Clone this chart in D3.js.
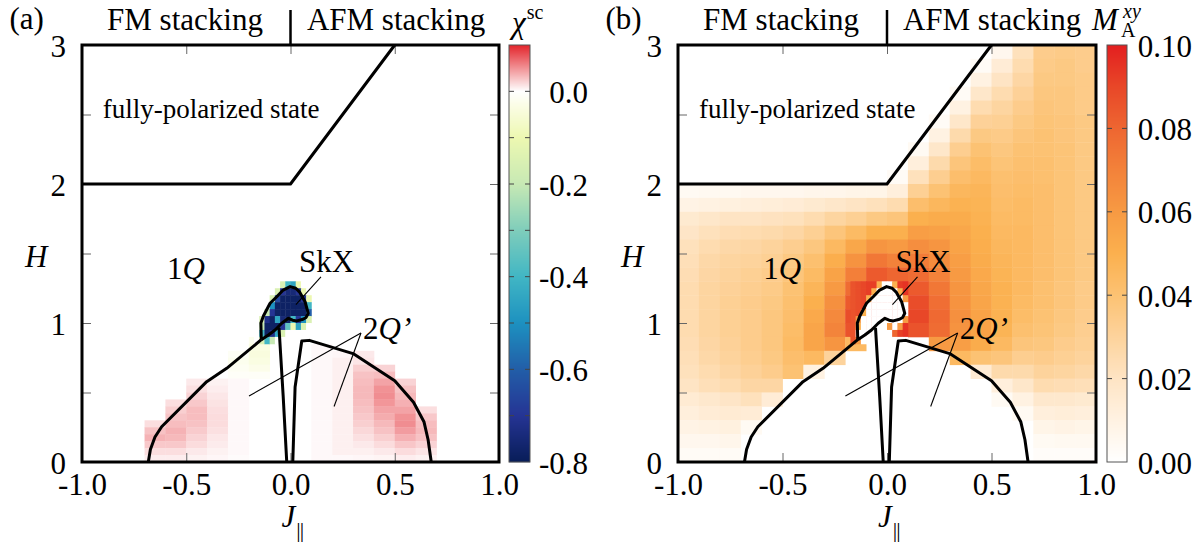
<!DOCTYPE html>
<html><head><meta charset="utf-8">
<script src="https://cdn.jsdelivr.net/npm/d3@7"></script>
<style>
body{margin:0;background:#fff}
svg{display:block;font-family:"Liberation Serif","Times New Roman",serif}
</style>
</head><body>
<svg id="c" width="1204" height="544" font-family="Liberation Serif, serif"></svg>
<script>
// ---------------- data ----------------
// column left edges in J (width 0.1)
const jCols = [-1.0,-0.9,-0.8,-0.7,-0.6,-0.5,-0.4,-0.3,-0.2,-0.1,0.0,0.1,0.2,0.3,0.4,0.5,0.6,0.7,0.8,0.9];
// row bottom edges in H for panel (a) low-field grid (height 0.05)
const hRowsA = [0.95,0.9,0.85,0.8,0.75,0.7,0.65,0.6,0.55,0.5,0.45,0.4,0.35,0.3,0.25,0.2,0.15,0.1,0.05,0.0];
// row bottom edges in H for panel (b) grid (height 0.1)
const hRowsB = [2.9,2.8,2.7,2.6,2.5,2.4,2.3,2.2,2.1,2.0,1.9,1.8,1.7,1.6,1.5,1.4,1.3,1.2,1.1,1.0,0.9,0.8,0.7,0.6,0.5,0.4,0.3,0.2,0.1,0.0];
// fine grid around the SkX pocket (J width 0.025, H height 0.05)
const jFine = [-0.175,-0.15,-0.125,-0.1,-0.075,-0.05,-0.025,0.0,0.025,0.05,0.075];
const hFine = [1.25,1.2,1.15,1.1,1.05,1.0,0.95,0.9,0.85];

// chi^sc values (x 1e-3)
const chiCoarse = [
 [0,0,0,0,0,0,0,0,0,0,0,0,0,0,0,0,0,0,0,0],
 [0,0,0,0,0,0,0,0,0,0,0,0,0,0,0,0,0,0,0,0],
 [0,0,0,0,0,0,0,0,-20,0,0,0,0,0,0,0,0,0,0,0],
 [0,0,0,0,0,0,0,0,-35,0,0,3,0,0,0,0,0,0,0,0],
 [0,0,0,0,0,0,0,-12,-40,0,0,3,4,10,0,0,0,0,0,0],
 [0,0,0,0,0,0,0,-20,-35,0,0,3,7,12,0,0,0,0,0,0],
 [0,0,0,0,0,0,0,-15,-25,0,0,3,7,22,20,0,0,0,0,0],
 [0,0,0,0,0,0,0,-8,-10,0,0,3,7,28,30,0,0,0,0,0],
 [0,0,0,0,0,10,6,3,0,0,0,3,7,30,42,20,0,0,0,0],
 [0,0,0,0,0,14,8,3,0,0,0,3,7,32,50,28,0,0,0,0],
 [0,0,0,0,0,20,11,3,0,0,0,3,7,32,52,32,0,0,0,0],
 [0,0,0,0,15,25,13,3,0,0,0,3,7,30,48,36,0,0,0,0],
 [0,0,0,0,22,30,15,3,0,0,0,3,7,28,42,42,15,0,0,0],
 [0,0,0,0,27,30,16,3,0,0,0,3,7,25,38,50,25,0,0,0],
 [0,0,0,15,30,28,16,3,0,0,0,3,7,22,32,52,30,0,0,0],
 [0,0,0,28,35,24,14,3,0,0,0,3,7,18,28,45,32,0,0,0],
 [0,0,0,35,32,20,11,3,0,0,0,3,7,14,22,36,28,0,0,0],
 [0,0,0,25,25,16,9,3,0,0,0,3,7,10,16,26,20,0,0,0],
 [0,0,0,15,15,10,6,3,0,0,0,3,7,7,10,16,12,0,0,0],
 [0,0,0,8,8,6,4,2,0,0,0,3,3,4,5,8,6,0,0,0]
];
const chiFine = [
 [0,0,0,0,0,-150,-400,-450,-100,0,0],
 [0,0,0,0,-150,-700,-750,-750,-700,-100,0],
 [0,0,0,-150,-650,-780,-780,-780,-780,-700,-100],
 [0,0,0,-500,-780,-780,-780,-780,-780,-780,-400],
 [0,0,-200,-700,-780,-780,-780,-780,-780,-780,-600],
 [0,-150,-720,-780,-450,-750,-780,-400,-700,-500,-150],
 [0,-200,-780,-780,-780,-700,-350,-100,-450,-150,0],
 [0,-400,-780,-720,-450,-150,0,0,0,0,0],
 [0,-150,-400,-200,0,0,0,0,0,0,0]
];

// M_A^xy values (x 1e-3)
const mCoarse = [
 [0,0,0,0,0,0,0,0,0,0,0,0,0,0,0,6,22,34,35,34],
 [0,0,0,0,0,0,0,0,0,0,0,0,0,0,3,14,25,35,36,34],
 [0,0,0,0,0,0,0,0,0,0,0,0,0,0,10,20,28,36,36,35],
 [0,0,0,0,0,0,0,0,0,0,0,0,0,3,18,25,31,37,37,35],
 [0,0,0,0,0,0,0,0,0,0,0,0,0,10,25,29,34,38,37,35],
 [0,0,0,0,0,0,0,0,0,0,0,0,3,18,31,32,36,39,38,36],
 [0,0,0,0,0,0,0,0,0,0,0,0,10,26,36,35,38,40,38,36],
 [0,0,0,0,0,0,0,0,0,0,0,4,18,33,40,37,40,40,39,36],
 [0,0,0,0,0,0,0,0,0,0,0,12,26,38,43,39,41,41,39,36],
 [0,0,0,0,0,0,0,0,0,0,3,22,33,42,45,41,42,41,39,36],
 [4,5,5,6,6,6,7,7,8,8,12,32,40,46,47,42,43,42,39,36],
 [9,10,11,12,13,14,16,18,20,22,25,42,46,49,48,43,44,42,39,36],
 [16,18,20,20,21,22,25,29,32,36,38,50,52,52,49,44,44,42,39,36],
 [19,22,24,25,26,28,32,38,44,50,50,58,57,54,50,45,45,42,39,36],
 [22,25,27,28,30,33,37,45,54,62,60,65,62,56,51,46,45,42,39,36],
 [23,27,29,30,32,36,41,51,63,74,70,72,66,58,52,47,45,42,39,36],
 [24,28,30,32,34,38,44,56,71,84,80,78,70,60,53,48,45,42,39,36],
 [25,29,31,33,35,40,47,60,78,90,88,84,74,62,54,49,45,41,38,35],
 [25,29,32,34,36,41,50,64,84,93,93,88,77,63,55,49,44,41,38,35],
 [25,29,32,34,37,42,53,67,88,94,95,90,79,64,56,49,43,40,37,34],
 [25,29,32,34,37,43,55,69,86,92,92,86,78,63,56,48,41,39,36,33],
 [24,28,31,34,37,44,55,62,45,0,0,0,60,58,52,45,38,37,34,32],
 [23,27,30,33,36,42,45,30,0,0,0,0,0,45,40,38,33,34,32,30],
 [22,25,28,31,34,40,10,0,0,0,0,0,0,0,15,26,26,30,29,27],
 [20,23,25,28,28,0,0,0,0,0,0,0,0,0,0,12,18,25,24,23],
 [15,17,19,22,14,0,0,0,0,0,0,0,0,0,0,4,10,17,17,16],
 [12,14,15,14,0,0,0,0,0,0,0,0,0,0,0,0,4,12,13,12],
 [9,10,11,4,0,0,0,0,0,0,0,0,0,0,0,0,0,8,9,8],
 [6,6,7,0,0,0,0,0,0,0,0,0,0,0,0,0,0,4,5,5],
 [3,3,3,0,0,0,0,0,0,0,0,0,0,0,0,0,0,2,2,2]
];
const mFine = [
 [86,88,90,92,92,50,0,0,50,93,95],
 [86,88,90,92,50,0,0,0,0,50,95],
 [86,88,90,50,0,0,0,0,0,0,60],
 [86,88,90,0,0,0,0,0,0,0,0],
 [86,88,50,0,0,0,0,0,0,0,0],
 [86,60,0,0,0,0,0,0,0,0,60],
 [86,50,0,0,0,0,0,60,0,60,95],
 [86,0,0,0,0,0,0,0,80,92,95],
 [86,60,0,0,0,0,0,0,0,0,0]
];

// axis ticks
const xTickVals = [-1.0,-0.5,0.0,0.5,1.0];
const yTickVals = [0,0.5,1,1.5,2,2.5,3];
const chiTickVals = [-0.8,-0.6,-0.4,-0.2,0.0];
const chiMinorTicks = [-0.7,-0.6,-0.5,-0.4,-0.3,-0.2,-0.1,0.0];
const mTickVals = [0.00,0.02,0.04,0.06,0.08,0.10];
const mMinorTicks = [0.02,0.04,0.06,0.08];

// phase boundaries (J, H)
const polarizedLine = [[-1,2],[0,2],[0.5,3]];
const leftDome = [[-0.682,0],[-0.672,0.09],[-0.65,0.18],[-0.618,0.254],[-0.402,0.578],[-0.306,0.674],[-0.14,0.88]];
const skxPocket = [[-0.14,0.88],[-0.142,1.0],[-0.13,1.05],[-0.098,1.142],[-0.066,1.189],[-0.035,1.237],[-0.002,1.262],[0.025,1.25],[0.045,1.22],[0.07,1.153],[0.085,1.07],[0.075,1.04],[0.06,1.027],[0.03,1.015],[0.01,1.02],[-0.01,1.034],[-0.042,0.998],[-0.074,0.95],[-0.106,0.914],[-0.14,0.88]];
const leftChannel = [[-0.055,0.965],[-0.035,0.47],[-0.018,0]];
const rightDome = [[0.011,0],[0.022,0.54],[0.054,0.87],[0.09,0.875],[0.3,0.78],[0.5,0.585],[0.59,0.43],[0.64,0.29],[0.66,0.16],[0.675,0]];
const annotSkX = [[0.146,1.331],[0.026,1.133]];
const annot2Qa = [[0.338,0.928],[-0.199,0.475]];
const annot2Qb = [[0.338,0.928],[0.209,0.399]];

// ---------------- drawing ----------------
const svg = d3.select("#c");
const TOP = 45, BOT = 462;
const FS = 31;
const SERIF = "Liberation Serif, serif";

const chiColor = d3.scaleLinear()
  .domain([-0.8,-0.7,-0.6,-0.5,-0.4,-0.3,-0.2,-0.1,-0.03,0,0.1])
  .range(["#081d58","#253494","#225ea8","#1d91c0","#41b6c4","#7fcdbb","#c7e9b4","#edf8b1","#fbfde6","#ffffff","#e3242b"])
  .clamp(true);
const mColor = d3.scaleLinear()
  .domain([0,0.01,0.02,0.03,0.04,0.05,0.06,0.07,0.08,0.09,0.10])
  .range(["#ffffff","#fff2e2","#fee4c4","#fdd39c","#fcc273","#fbb04e","#f79a43","#f3823a","#ee6631","#e84728","#e31f20"])
  .clamp(true);

function cellsFrom(cols, rows, vals, dj, dh, keepZero){
  const out = [];
  rows.forEach((h, r) => cols.forEach((j, c) => {
    const v = vals[r][c];
    if (v !== 0 || keepZero) out.push({j, h, v: v / 1000, dj, dh});
  }));
  return out;
}

function drawPanel(o){
  const x = d3.scaleLinear().domain([-1, 1]).range([o.x0, o.x0 + o.w]);
  const y = d3.scaleLinear().domain([0, 3]).range([BOT, TOP]);
  const g = svg.append("g").attr("font-family", SERIF);

  const cells = cellsFrom(jCols, o.rows, o.coarse, 0.1, o.dh, false)
    .concat(cellsFrom(jFine, hFine, o.fine, 0.025, 0.05, true));
  g.append("g").selectAll("rect").data(cells).join("rect")
    .attr("x", d => x(d.j))
    .attr("y", d => y(d.h + d.dh))
    .attr("width", d => x(d.j + d.dj) - x(d.j) + 0.4)
    .attr("height", d => y(d.h) - y(d.h + d.dh) + 0.4)
    .attr("fill", d => o.color(d.v));

  // inner ticks
  const tickCol = "#666";
  const axB = d3.axisBottom(x).tickValues(xTickVals).tickSize(-9).tickPadding(11).tickFormat(d => d.toFixed(1));
  const gb = g.append("g").attr("transform", `translate(0,${BOT})`).call(axB);
  const axT = d3.axisTop(x).tickValues(xTickVals).tickSize(-9).tickFormat("");
  const gt = g.append("g").attr("transform", `translate(0,${TOP})`).call(axT);
  const axL = d3.axisLeft(y).tickValues(yTickVals).tickSize(-9).tickPadding(16).tickFormat(d => Number.isInteger(d) ? d : "");
  const gl = g.append("g").attr("transform", `translate(${o.x0},0)`).call(axL);
  const axR = d3.axisRight(y).tickValues(yTickVals).tickSize(-9).tickFormat("");
  const gr = g.append("g").attr("transform", `translate(${o.x0 + o.w},0)`).call(axR);
  [gb, gt, gl, gr].forEach(a => {
    a.attr("font-family", SERIF);
    a.select(".domain").remove();
    a.selectAll("line").attr("stroke", tickCol).attr("stroke-width", 1);
    a.selectAll("text").attr("font-size", FS).attr("font-family", SERIF).attr("fill", "#000");
  });
  gl.selectAll("text").attr("dy", "0.36em");

  // phase boundaries
  const line = d3.line().x(d => x(d[0])).y(d => y(d[1]));
  const bounds = [polarizedLine, leftDome, skxPocket, leftChannel, rightDome];
  g.append("g").selectAll("path").data(bounds).join("path")
    .attr("d", line).attr("fill", "none").attr("stroke", "#000")
    .attr("stroke-width", 3).attr("stroke-linejoin", "round");
  g.append("g").selectAll("path").data([annotSkX, annot2Qa, annot2Qb]).join("path")
    .attr("d", line).attr("fill", "none").attr("stroke", "#000").attr("stroke-width", 1.1);

  // frame
  g.append("rect").attr("x", o.x0).attr("y", TOP).attr("width", o.w).attr("height", BOT - TOP)
    .attr("fill", "none").attr("stroke", "#000").attr("stroke-width", 3);

  // phase labels
  g.append("text").attr("x", x(-0.9)).attr("y", y(2.478)).attr("font-size", 27).text("fully-polarized state");
  const t1 = g.append("text").attr("x", x(-0.592)).attr("y", y(1.32)).attr("font-size", FS);
  t1.append("tspan").text("1"); t1.append("tspan").attr("font-style", "italic").text("Q");
  g.append("text").attr("x", x(0.041)).attr("y", y(1.37)).attr("font-size", FS).text("SkX");
  const t2 = g.append("text").attr("x", x(0.348)).attr("y", y(0.885)).attr("font-size", FS);
  t2.append("tspan").text("2"); t2.append("tspan").attr("font-style", "italic").text("Q");
  t2.append("tspan").attr("font-style", "italic").text("\u2019");

  // header
  g.append("text").attr("x", o.x0 - 72.5).attr("y", 29).attr("font-size", FS).text(o.tag);
  g.append("text").attr("x", o.x0 + 103).attr("y", 30).attr("text-anchor", "middle").attr("font-size", FS).text("FM stacking");
  g.append("text").attr("x", o.x0 + 314).attr("y", 30).attr("text-anchor", "middle").attr("font-size", FS).text("AFM stacking");
  g.append("line").attr("x1", x(0)).attr("x2", x(0)).attr("y1", 10).attr("y2", TOP)
    .attr("stroke", "#000").attr("stroke-width", 2.5);

  // axis titles
  g.append("text").attr("x", o.x0 - 57).attr("y", 267).attr("font-size", FS).attr("font-style", "italic").text("H");
  const jt = g.append("text").attr("x", x(0) - 9).attr("y", 527).attr("font-size", FS);
  jt.append("tspan").attr("font-style", "italic").text("J");
  jt.append("tspan").attr("font-size", 22).attr("dy", 10).attr("dx", 1).attr("letter-spacing", -1).text("||");

  // colour bar
  const cbx = o.x0 + o.w + o.cbGap, cbw = o.cbW;
  const cb = d3.scaleLinear().domain(o.cbDomain).range([BOT, TOP]);
  const cbg = svg.append("g").attr("font-family", SERIF);
  cbg.selectAll("rect").data(d3.range(TOP, BOT, 1)).join("rect")
    .attr("x", cbx).attr("y", d => d).attr("width", cbw).attr("height", 1.2)
    .attr("fill", d => o.color(cb.invert(d + 0.5)));
  cbg.append("rect").attr("x", cbx).attr("y", TOP).attr("width", cbw).attr("height", BOT - TOP)
    .attr("fill", "none").attr("stroke", "#555").attr("stroke-width", 1);
  cbg.selectAll("line.mt").data(o.cbMinor).join("line")
    .attr("x1", cbx).attr("x2", cbx + 5).attr("y1", d => cb(d)).attr("y2", d => cb(d))
    .attr("stroke", "#444").attr("stroke-width", 1);
  cbg.selectAll("line.mt2").data(o.cbMinor).join("line")
    .attr("x1", cbx + cbw - 5).attr("x2", cbx + cbw).attr("y1", d => cb(d)).attr("y2", d => cb(d))
    .attr("stroke", "#444").attr("stroke-width", 1);
  const ca = cbg.append("g").attr("transform", `translate(${cbx + cbw},0)`)
    .call(d3.axisRight(cb).tickValues(o.cbTicks).tickSize(0).tickFormat(o.cbFmt));
  ca.attr("font-family", SERIF);
  ca.select(".domain").remove();
  ca.selectAll("text").attr("font-size", FS).attr("font-family", SERIF)
    .attr("fill", "#000").attr("text-anchor", "end").attr("x", o.cbLabelX).attr("dy", "0.36em");
  o.cbTitle(cbg, cbx);
}

drawPanel({
  x0: 82, w: 417, rows: hRowsA, dh: 0.05, coarse: chiCoarse, fine: chiFine, color: chiColor, tag: "(a)",
  cbGap: 10, cbW: 21, cbDomain: [-0.8, 0.1], cbTicks: chiTickVals, cbMinor: chiMinorTicks,
  cbFmt: d => d.toFixed(1), cbLabelX: 58,
  cbTitle: (s, cbx) => {
    const t = s.append("text").attr("x", cbx + 3).attr("y", 33).attr("font-size", FS);
    t.append("tspan").attr("font-style", "italic").text("\u03c7");
    t.append("tspan").attr("font-size", 20).attr("dy", -14).attr("dx", 1).text("sc");
  }
});
drawPanel({
  x0: 678, w: 418, rows: hRowsB, dh: 0.1, coarse: mCoarse, fine: mFine, color: mColor, tag: "(b)",
  cbGap: 11, cbW: 20, cbDomain: [0, 0.1], cbTicks: mTickVals, cbMinor: mMinorTicks,
  cbFmt: d => d.toFixed(2), cbLabelX: 65,
  cbTitle: (s, cbx) => {
    s.append("text").attr("x", cbx - 15).attr("y", 30).attr("font-size", FS).attr("font-style", "italic").text("M");
    s.append("text").attr("x", cbx + 14).attr("y", 37).attr("font-size", 20).text("A");
    s.append("text").attr("x", cbx + 16).attr("y", 18).attr("font-size", 20).attr("font-style", "italic").text("xy");
  }
});
</script>
</body></html>
